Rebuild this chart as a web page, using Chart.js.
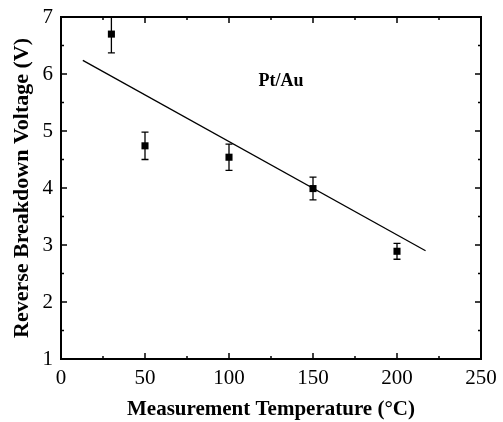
<!DOCTYPE html>
<html>
<head>
<meta charset="utf-8">
<script src="https://cdn.jsdelivr.net/npm/chart.js@4.4.1/dist/chart.umd.min.js"></script>
<style>
html,body{margin:0;padding:0;background:#fff;}
#wrap{width:503px;height:422px;}
</style>
</head>
<body>
<div id="wrap"><canvas id="c" width="503" height="422"></canvas></div>
<script>
const temperatures = [30, 50, 100, 150, 200];
const voltages = [6.7, 4.74, 4.54, 3.99, 2.89];
const voltageErrors = [0.33, 0.24, 0.23, 0.2, 0.14];
const fitX = [13, 217];
const fitY = [6.24, 2.9];
const annotationText = 'Pt/Au';
const annotationPos = [131, 5.87];

const SERIF = '"Liberation Serif","DejaVu Serif",serif';

const frameAndTicks = {
  id: 'frameAndTicks',
  afterDraw(chart) {
    const {ctx, chartArea: a, scales} = chart;
    const xs = scales.x, ys = scales.y;
    ctx.save();
    ctx.strokeStyle = '#000';
    ctx.lineWidth = 2;
    ctx.strokeRect(a.left, a.top, a.right - a.left, a.bottom - a.top);
    ctx.lineWidth = 1.5;
    const xMaj = xs.ticks.map(t => t.value);
    const yMaj = ys.ticks.map(t => t.value);
    const mids = arr => { const r = []; for (let i = 0; i < arr.length - 1; i++) r.push((arr[i] + arr[i+1]) / 2); return r; };
    const xMin = mids(xMaj), yMin = mids(yMaj);
    ctx.beginPath();
    const xt = (v, len) => { const p = xs.getPixelForValue(v); ctx.moveTo(p, a.bottom); ctx.lineTo(p, a.bottom - len); ctx.moveTo(p, a.top); ctx.lineTo(p, a.top + len); };
    const yt = (v, len) => { const p = ys.getPixelForValue(v); ctx.moveTo(a.left, p); ctx.lineTo(a.left + len, p); ctx.moveTo(a.right, p); ctx.lineTo(a.right - len, p); };
    xMaj.forEach(v => xt(v, 6)); xMin.forEach(v => xt(v, 3));
    yMaj.forEach(v => yt(v, 6)); yMin.forEach(v => yt(v, 3));
    ctx.stroke();
    ctx.fillStyle = '#000';
    ctx.font = 'bold 18px ' + SERIF;
    ctx.textAlign = 'center';
    ctx.textBaseline = 'middle';
    ctx.fillText(annotationText, xs.getPixelForValue(annotationPos[0]), ys.getPixelForValue(annotationPos[1]));
    ctx.restore();
  }
};

const errorBars = {
  id: 'errorBars',
  afterDatasetsDraw(chart) {
    const {ctx, chartArea: a, scales} = chart;
    const xs = scales.x, ys = scales.y;
    ctx.save();
    ctx.beginPath();
    ctx.rect(a.left, a.top, a.right - a.left, a.bottom - a.top);
    ctx.clip();
    ctx.strokeStyle = '#000';
    ctx.lineWidth = 1.3;
    ctx.beginPath();
    temperatures.forEach((t, i) => {
      const px = xs.getPixelForValue(t);
      const top = ys.getPixelForValue(voltages[i] + voltageErrors[i]);
      const bot = ys.getPixelForValue(voltages[i] - voltageErrors[i]);
      ctx.moveTo(px, top); ctx.lineTo(px, bot);
      ctx.moveTo(px - 3.5, top); ctx.lineTo(px + 3.5, top);
      ctx.moveTo(px - 3.5, bot); ctx.lineTo(px + 3.5, bot);
    });
    ctx.stroke();
    ctx.restore();
  }
};

new Chart(document.getElementById('c'), {
  type: 'scatter',
  data: {
    datasets: [
      {
        label: 'data',
        data: temperatures.map((t, i) => ({x: t, y: voltages[i]})),
        pointStyle: 'rect',
        pointRadius: 5,
        pointBackgroundColor: '#000',
        pointBorderColor: '#000',
        pointBorderWidth: 0,
        showLine: false
      },
      {
        label: 'fit',
        data: fitX.map((x, i) => ({x: x, y: fitY[i]})),
        showLine: true,
        borderColor: '#000',
        borderWidth: 1.3,
        pointRadius: 0,
        fill: false
      }
    ]
  },
  options: {
    responsive: false,
    animation: false,
    devicePixelRatio: 1,
    layout: {padding: {top: 17, right: 22, left: 0, bottom: 0}},
    plugins: {legend: {display: false}, tooltip: {enabled: false}},
    scales: {
      x: {
        type: 'linear', min: 0, max: 250,
        grid: {display: false, drawTicks: false, tickLength: 0},
        border: {display: false},
        ticks: {stepSize: 50, color: '#000', font: {family: SERIF, size: 21}, padding: 7, maxRotation: 0},
        title: {display: true, text: 'Measurement Temperature (°C)', color: '#000', font: {family: SERIF, size: 21, weight: 'bold'}, padding: {top: 6, bottom: 0}},
        afterFit(s) { s.height = 63; s.paddingLeft = 0; s.paddingRight = 0; }
      },
      y: {
        type: 'linear', min: 1, max: 7,
        grid: {display: false, drawTicks: false, tickLength: 0},
        border: {display: false},
        ticks: {stepSize: 1, color: '#000', font: {family: SERIF, size: 21, lineHeight: 1}, padding: 8},
        title: {display: true, text: 'Reverse Breakdown Voltage (V)', color: '#000', font: {family: SERIF, size: 22, weight: 'bold'}, padding: {top: 9, bottom: 0}},
        afterFit(s) { s.width = 61; s.paddingTop = 0; s.paddingBottom = 0; }
      }
    }
  },
  plugins: [errorBars, frameAndTicks]
});
</script>
</body>
</html>
